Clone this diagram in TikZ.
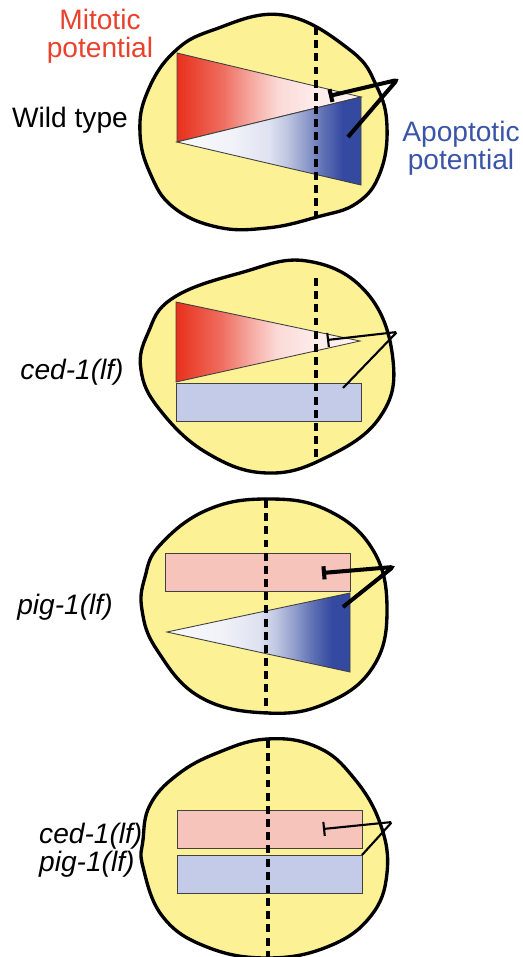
\documentclass[tikz,border=0pt]{standalone}
\usepackage{fontspec}
\setmainfont{Liberation Sans}
\usetikzlibrary{arrows.meta}

\definecolor{cellyellow}{RGB}{253,241,150}
\definecolor{mitred}{RGB}{232,48,28}
\definecolor{apoblue}{RGB}{52,74,160}
\definecolor{mitpale}{RGB}{247,196,188}
\definecolor{apopale}{RGB}{195,203,232}
\definecolor{mittext}{RGB}{232,66,44}
\definecolor{apotext}{RGB}{58,85,168}

\pgfdeclarehorizontalshading{redfade}{100bp}{color(0bp)=(mitred); color(25bp)=(mitred);
  color(37.5bp)=(mitred!70); color(45bp)=(mitred!42); color(52.5bp)=(mitred!18);
  color(62.5bp)=(mitred!9); color(75bp)=(mitred!5); color(100bp)=(mitred!5)}
\pgfdeclarehorizontalshading{bluefade}{100bp}{color(0bp)=(apoblue!3); color(25bp)=(apoblue!3);
  color(40bp)=(apoblue!7); color(50bp)=(apoblue!16); color(55bp)=(apoblue!32);
  color(60bp)=(apoblue!55); color(65bp)=(apoblue!80); color(70bp)=(apoblue); color(100bp)=(apoblue)}

\begin{document}
\begin{tikzpicture}[x=0.02cm,y=-0.02cm,
    cell/.style={draw=black,line width=1.9pt,fill=cellyellow},
    midline/.style={draw=black,line width=1.8pt,dash pattern=on 4.5pt off 3pt},
    potbox/.style={draw=black!75,line width=0.5pt},
    redwedge/.style={potbox,shading=redfade},
    bluewedge/.style={potbox,shading=bluefade},
    inhib/.style={-{Bar[width=7.5pt]},line width=2.3pt,rounded corners=1.5pt},
    thininhib/.style={-{Bar[width=8pt]},line width=1.2pt,rounded corners=1pt},
    lbl/.style={font=\fontsize{16}{16}\selectfont,align=center},
    gene/.style={font=\fontsize{16}{16}\selectfont\itshape}]
    \useasboundingbox (0,0) rectangle (523,957);

    % wild type
    \path[cell] plot[smooth cycle,tension=0.7] coordinates {(213,30) (283,15) (350,50) (377,87) (387,127) (380,173) (357,203) (317,217) (267,228) (217,227) (173,207) (150,173) (140,133) (147,93) (173,53)};
    \path[redwedge] (177,53) -- (361,97) -- (177,142) -- cycle;
    \path[bluewedge] (177,142) -- (361,97) -- (361,185) -- cycle;
    \draw[midline] (316,27) -- (316,216);
    \coordinate (wt-from) at (348,137);
    \coordinate (wt-turn) at (397,80);
    \coordinate (wt-to) at (329,96);
    \draw[inhib] (wt-from) -- (wt-turn) -- (wt-to);
    \node[lbl,text=mittext] (mito) at (100,36) {Mitotic\\potential};
    \node[lbl] (wt) at (70,120) {Wild type};
    \node[lbl,text=apotext] (apo) at (461,148) {Apoptotic\\potential};

    % ced-1(lf)
    \path[cell] plot[smooth cycle,tension=0.7] coordinates {(240,273) (307,261) (367,293) (393,360) (380,417) (327,457) (267,473) (207,453) (160,410) (141,370) (148,333) (173,298)};
    \path[redwedge] (176,302) -- (360,341) -- (176,382) -- cycle;
    \path[potbox,fill=apopale] (176,383) rectangle (361,421);
    \draw[midline] (316,278) -- (316,458);
    \coordinate (ced-from) at (343,388);
    \coordinate (ced-turn) at (397,332);
    \coordinate (ced-to) at (327,340);
    \draw[thininhib] (ced-from) -- (ced-turn) -- (ced-to);
    \node[gene] (ced) at (72,372) {ced-1(lf)};

    % pig-1(lf)
    \path[cell] plot[smooth cycle,tension=0.7] coordinates {(207,510) (267,499) (327,510) (373,550) (387,610) (373,667) (327,703) (267,713) (200,697) (157,650) (142,610) (145,577) (160,545)};
    \path[potbox,fill=mitpale] (165,553) rectangle (350,591);
    \path[bluewedge] (167,632) -- (350,593) -- (350,672) -- cycle;
    \draw[midline] (266,500) -- (266,713);
    \coordinate (pig-from) at (343,607);
    \coordinate (pig-turn) at (393,567);
    \coordinate (pig-to) at (322,573);
    \draw[inhib] (pig-from) -- (pig-turn) -- (pig-to);
    \node[gene] (pig) at (65,607) {pig-1(lf)};

    % ced-1(lf) pig-1(lf)
    \path[cell] plot[smooth cycle,tension=0.7] coordinates {(217,753) (267,739) (317,747) (353,777) (380,823) (387,873) (370,917) (327,947) (267,958) (207,947) (163,917) (143,867) (143,840) (150,805) (177,775)};
    \path[potbox,fill=mitpale] (177,810) rectangle (362,848);
    \path[potbox,fill=apopale] (177,855) rectangle (362,893);
    \draw[midline] (268,740) -- (268,957);
    \coordinate (both-from) at (362,855);
    \coordinate (both-turn) at (392,822);
    \coordinate (both-to) at (323,829);
    \draw[thininhib] (both-from) -- (both-turn) -- (both-to);
    \node[gene,align=left,anchor=west] (cedpig) at (33,850) {ced-1(lf)\\pig-1(lf)};
\end{tikzpicture}
\end{document}
